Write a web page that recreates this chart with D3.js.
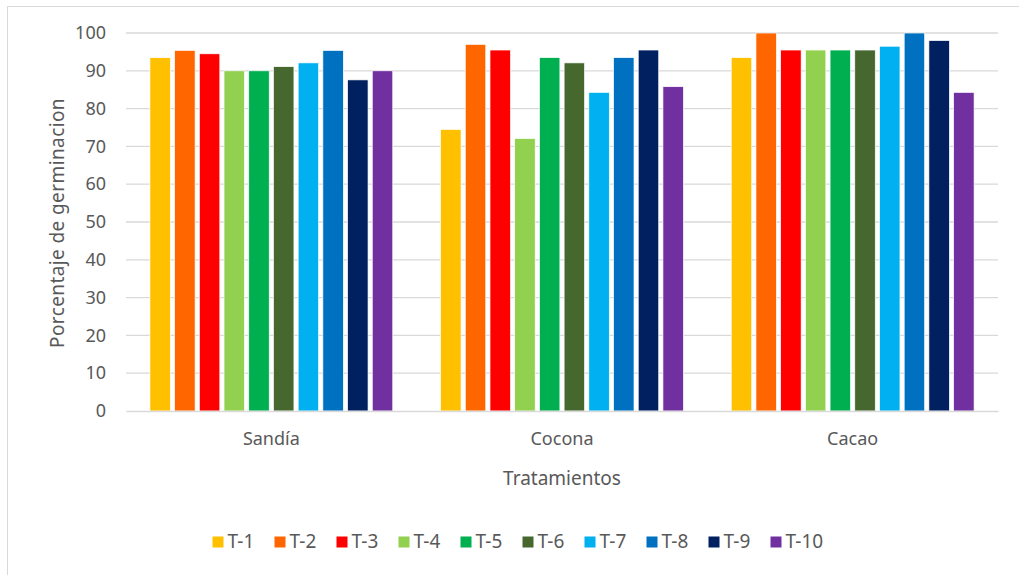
<!DOCTYPE html>
<html>
<head>
<meta charset="utf-8">
<script src="https://cdn.jsdelivr.net/npm/d3@7"></script>
<style>
  body { margin: 0; background: #fff; }
  text { font-family: "Noto Sans", "Open Sans", sans-serif; fill: #595959; }
</style>
</head>
<body>
<svg id="chart" width="1019" height="575"></svg>
<script>
const categories = ["Sandía", "Cocona", "Cacao"];
const series = ["T-1", "T-2", "T-3", "T-4", "T-5", "T-6", "T-7", "T-8", "T-9", "T-10"];
const colors = ["#ffc000", "#ff6600", "#ff0000", "#92d050", "#00b050", "#46682e", "#00b0f0", "#0070c0", "#002060", "#7030a0"];
// one row per category, values in series order
const sandia = [93.5, 95.4, 94.5, 90, 90, 91.1, 92.1, 95.4, 87.6, 90];
const cocona = [74.5, 97, 95.5, 72.1, 93.5, 92.1, 84.3, 93.5, 95.5, 85.8];
const cacao = [93.5, 100, 95.5, 95.5, 95.5, 95.5, 96.5, 100, 98, 84.3];
const values = [sandia, cocona, cacao];
const yTicks = [0, 10, 20, 30, 40, 50, 60, 70, 80, 90, 100];

const margin = { top: 33, right: 21, bottom: 164, left: 126 };
const width = 1019 - margin.left - margin.right;
const height = 575 - margin.top - margin.bottom;

const svg = d3.select("#chart");

// chart frame (right and bottom edges fall outside the picture)
svg.append("rect")
  .attr("x", 7.5).attr("y", 6.5)
  .attr("width", 1030).attr("height", 590)
  .attr("fill", "none").attr("stroke", "#d9d9d9");

const g = svg.append("g")
  .attr("transform", "translate(" + margin.left + "," + margin.top + ")");

const x0 = d3.scaleBand().domain(categories).range([0, width]).paddingInner(0).paddingOuter(0);
const x1 = d3.scaleBand().domain(series)
  .range([x0.bandwidth() * 0.075, x0.bandwidth() * 0.925])
  .paddingInner(0.17).paddingOuter(0.085);
const y = d3.scaleLinear().domain([0, 100]).range([height, 0]);

// gridlines
g.append("g")
  .selectAll("line")
  .data(yTicks.slice(1))
  .join("line")
  .attr("x1", 0).attr("x2", width)
  .attr("y1", (d) => y(d)).attr("y2", (d) => y(d))
  .attr("stroke", "#d9d9d9").attr("stroke-width", 1.3);

// y axis labels
const yAxis = d3.axisLeft(y).tickValues(yTicks).tickSize(0).tickPadding(20);
const gY = g.append("g").call(yAxis);
gY.select(".domain").remove();
gY.selectAll("text").style("font-size", "18px").attr("fill", "#595959");

// bars
const groups = g.append("g")
  .selectAll("g")
  .data(categories)
  .join("g")
  .attr("transform", (d) => "translate(" + x0(d) + ",0)");

groups.selectAll("rect")
  .data((d, i) => values[i].map((v, j) => ({ key: series[j], value: v, color: colors[j] })))
  .join("rect")
  .attr("x", (d) => x1(d.key))
  .attr("y", (d) => y(d.value))
  .attr("width", x1.bandwidth())
  .attr("height", (d) => height - y(d.value))
  .attr("fill", (d) => d.color)
  .attr("stroke", "#fff")
  .attr("stroke-width", 0.7);

// x axis
const xAxis = d3.axisBottom(x0).tickSize(0).tickPadding(21);
const gX = g.append("g")
  .attr("transform", "translate(0," + height + ")")
  .call(xAxis);
gX.select(".domain").attr("stroke", "#d9d9d9").attr("stroke-width", 1.3);
gX.selectAll("text").style("font-size", "18px").attr("fill", "#595959");

// axis titles
svg.append("text")
  .attr("x", margin.left + width / 2)
  .attr("y", 485)
  .attr("text-anchor", "middle")
  .style("font-size", "19px")
  .text("Tratamientos");

svg.append("text")
  .attr("transform", "translate(64," + (margin.top + height / 2 + 1) + ") rotate(-90)")
  .attr("text-anchor", "middle")
  .style("font-size", "19px")
  .style("letter-spacing", "0.4px")
  .text("Porcentaje de germinacion");

// legend
const legend = svg.append("g").attr("transform", "translate(212.5,541)");
const item = legend.selectAll("g")
  .data(series)
  .join("g")
  .attr("transform", (d, i) => "translate(" + i * 62 + ",0)");
item.append("rect")
  .attr("x", 0).attr("y", -4.5)
  .attr("width", 11).attr("height", 11)
  .attr("fill", (d, i) => colors[i]);
item.append("text")
  .attr("x", 15).attr("y", 0)
  .attr("dy", "0.35em")
  .style("font-size", "19px")
  .text((d) => d);
</script>
</body>
</html>
